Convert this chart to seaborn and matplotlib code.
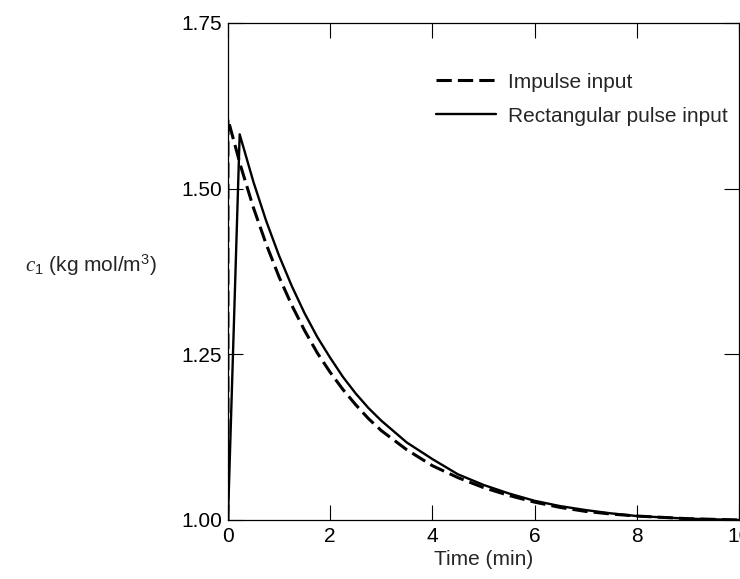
import numpy as np
import matplotlib
matplotlib.use("Agg")
import matplotlib.pyplot as plt
import seaborn as sns
import pandas as pd

# values
t_impulse = [0.0, 0.0, 0.25, 0.5, 0.75, 1.0, 1.25, 1.5, 1.75, 2.0, 2.25, 2.5,
             2.75, 3.0, 3.5, 4.0, 4.5, 5.0, 5.5, 6.0, 6.5, 7.0, 7.5, 8.0,
             8.5, 9.0, 9.5, 10.0]
c_impulse = [1.000, 1.605, 1.534, 1.471, 1.416, 1.367, 1.324, 1.286, 1.252,
             1.223, 1.197, 1.174, 1.153, 1.135, 1.106, 1.082, 1.064, 1.049,
             1.037, 1.027, 1.019, 1.013, 1.009, 1.006, 1.004, 1.002, 1.001,
             1.000]

t_rect = [0.0, 0.23, 0.5, 0.75, 1.0, 1.25, 1.5, 1.75, 2.0, 2.25, 2.5, 2.75,
          3.0, 3.5, 4.0, 4.5, 5.0, 5.5, 6.0, 6.5, 7.0, 7.5, 8.0, 8.5, 9.0,
          9.5, 10.0]
c_rect = [1.000, 1.582, 1.510, 1.451, 1.399, 1.353, 1.312, 1.276, 1.245,
          1.216, 1.191, 1.169, 1.150, 1.117, 1.092, 1.069, 1.053, 1.040,
          1.029, 1.021, 1.015, 1.010, 1.006, 1.004, 1.002, 1.001, 1.000]

x_ticks = [0, 2, 4, 6, 8, 10]
y_ticks = [1.00, 1.25, 1.50, 1.75]

df_imp = pd.DataFrame({'t': t_impulse, 'c': c_impulse})
df_rect = pd.DataFrame({'t': t_rect, 'c': c_rect})

sns.set_style('ticks')
plt.rcParams['font.family'] = ['Liberation Sans', 'DejaVu Sans']
plt.rcParams['mathtext.fontset'] = 'custom'
plt.rcParams['mathtext.rm'] = 'Liberation Sans'
plt.rcParams['mathtext.it'] = 'Liberation Serif:italic'

fig = plt.figure(figsize=(7.4, 5.79), dpi=100)
ax = fig.add_axes([0.308, 0.1019, 0.6905, 0.8584])

sns.lineplot(data=df_imp, x='t', y='c', ax=ax, color='black', lw=2.2,
             estimator=None, sort=False, label='Impulse input')
ax.lines[-1].set_dashes((5, 2))
sns.lineplot(data=df_rect, x='t', y='c', ax=ax, color='black', lw=1.7,
             estimator=None, sort=False, label='Rectangular pulse input')

ax.set_xlim(0, 10)
ax.set_ylim(1.0, 1.75)
ax.set_xticks(x_ticks)
ax.set_xticklabels([str(v) for v in x_ticks])
ax.set_yticks(y_ticks)
ax.set_yticklabels([f'{v:.2f}' for v in y_ticks])
ax.tick_params(direction='in', length=10.5, width=0.8, top=True, right=True,
               labelsize=15, colors='black')
ax.tick_params(axis='x', pad=5)
ax.tick_params(axis='y', pad=4)
for s in ax.spines.values():
    s.set_linewidth(0.9)
    s.set_color('black')

ax.set_xlabel('Time (min)', fontsize=15, labelpad=3)
ax.set_ylabel(r'$c_\mathrm{1}$ (kg mol/m$^\mathrm{3}$)', fontsize=15,
              rotation=0, ha='center', va='center')
ax.yaxis.set_label_coords(-0.268, 0.513)

leg = ax.legend(loc='upper right', bbox_to_anchor=(0.978, 0.9),
                frameon=False, fontsize=15, handlelength=2.85,
                handletextpad=0.58, labelspacing=0.72, borderpad=0,
                borderaxespad=0)

fig.savefig('out.png', dpi=100)
